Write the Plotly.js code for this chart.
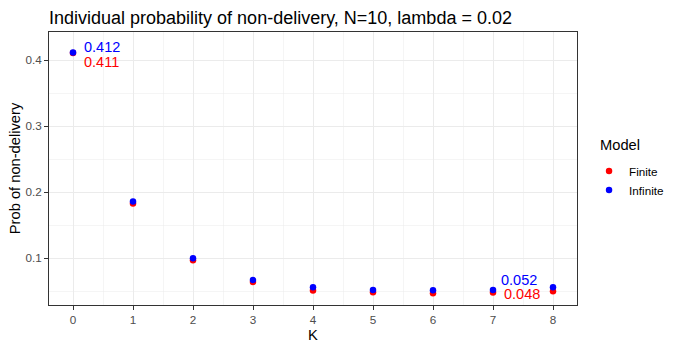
<!DOCTYPE html>
<html>
<head>
<meta charset="utf-8">
<script src="https://cdn.plot.ly/plotly-3.0.1.min.js"></script>
<style>
  html, body { margin: 0; padding: 0; background: #fff; }
  #chart { width: 679px; height: 350px; }
</style>
</head>
<body>
<div id="chart"></div>
<script>
const kValues = [0, 1, 2, 3, 4, 5, 6, 7, 8];
const finiteProb = [0.411, 0.183, 0.097, 0.064, 0.051, 0.0485, 0.047, 0.048, 0.050];
const infiniteProb = [0.412, 0.186, 0.100, 0.067, 0.056, 0.052, 0.0515, 0.052, 0.056];
// labelled points: index into kValues
const labelIdx = [0, 7];

const FONT = 'Liberation Sans, Arial, sans-serif';
const gridCol = '#EBEBEB';

const traces = [
  {
    x: kValues, y: finiteProb, name: 'Finite',
    mode: 'markers', type: 'scatter',
    marker: { color: '#FF0000', size: 6.5 }
  },
  {
    x: kValues, y: infiniteProb, name: 'Infinite',
    mode: 'markers', type: 'scatter',
    marker: { color: '#0000FF', size: 6.5 }
  }
];

// label offsets in pixels (blue above, red below)
const blueShift = [[9, 5], [6, 10]];
const redShift = [[9, -9], [9, -1]];
const annotations = [];
labelIdx.forEach((i, n) => {
  annotations.push({
    x: kValues[i], y: infiniteProb[i], text: infiniteProb[i].toFixed(3),
    showarrow: false, xanchor: 'left', yanchor: 'middle',
    xshift: blueShift[n][0], yshift: blueShift[n][1],
    font: { family: FONT, size: 14.5, color: '#0000FF' }
  });
  annotations.push({
    x: kValues[i], y: finiteProb[i], text: finiteProb[i].toFixed(3),
    showarrow: false, xanchor: 'left', yanchor: 'middle',
    xshift: redShift[n][0], yshift: redShift[n][1],
    font: { family: FONT, size: 14.5, color: '#FF0000' }
  });
});

// legend title drawn separately so it can sit left of the legend keys
annotations.push({
  xref: 'paper', yref: 'paper', x: 1.04, y: 0.586,
  xanchor: 'left', yanchor: 'middle', showarrow: false,
  text: 'Model', font: { family: FONT, size: 14.7, color: '#000' }
});

const layout = {
  width: 679, height: 350,
  margin: { l: 49, r: 102, t: 32, b: 45, autoexpand: false },
  paper_bgcolor: '#fff', plot_bgcolor: '#fff',
  font: { family: FONT, color: '#000' },
  title: {
    text: 'Individual probability of non-delivery, N=10, lambda = 0.02',
    x: 0, xref: 'paper', xanchor: 'left', y: 1, yref: 'paper', yanchor: 'bottom',
    pad: { b: 8 },
    font: { family: FONT, size: 18, color: '#000' }
  },
  xaxis: {
    range: [-0.4, 8.4], tickmode: 'array', tickvals: kValues,
    ticks: 'outside', ticklen: 4, tickcolor: '#333333',
    tickfont: { family: FONT, size: 11.7, color: '#4D4D4D' },
    showgrid: true, gridcolor: gridCol, gridwidth: 1,
    minor: { dtick: 0.5, tick0: 0.5, showgrid: true, gridcolor: gridCol, gridwidth: 0.5 },
    showline: true, mirror: true, linecolor: '#333333', linewidth: 1,
    zeroline: false,
    title: { text: 'K', standoff: 4, font: { family: FONT, size: 14.7, color: '#000' } }
  },
  yaxis: {
    range: [0.0292, 0.4429], dtick: 0.1, tick0: 0,
    ticks: 'outside', ticklen: 4, tickcolor: '#333333',
    tickfont: { family: FONT, size: 11.7, color: '#4D4D4D' },
    showgrid: true, gridcolor: gridCol, gridwidth: 1,
    minor: { dtick: 0.05, tick0: 0.05, showgrid: true, gridcolor: gridCol, gridwidth: 0.5 },
    showline: true, mirror: true, linecolor: '#333333', linewidth: 1,
    zeroline: false,
    title: { text: 'Prob of non-delivery', standoff: 1, font: { family: FONT, size: 14.7, color: '#000' } }
  },
  legend: {
    x: 1.0228, xanchor: 'left', y: 0.456, yanchor: 'middle',
    font: { family: FONT, size: 11.7, color: '#000' },
    tracegroupgap: 0
  },
  annotations: annotations
};

Plotly.newPlot('chart', traces, layout, { displayModeBar: false, staticPlot: true });
</script>
</body>
</html>
